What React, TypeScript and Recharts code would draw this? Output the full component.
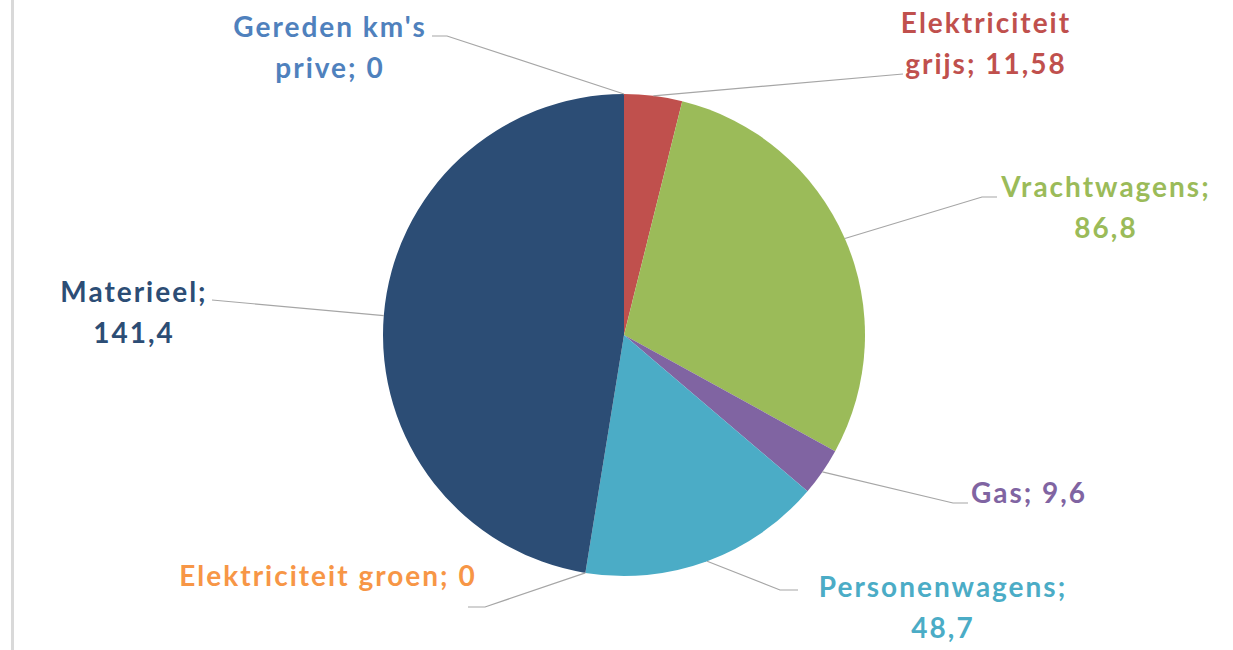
import React from 'react';
import { PieChart, Pie, Cell } from 'recharts';

const categories = [
  'Elektriciteit grijs',
  'Vrachtwagens',
  'Gas',
  'Personenwagens',
  'Elektriciteit groen',
  'Materieel',
  "Gereden km's prive",
];
const values = [11.58, 86.8, 9.6, 48.7, 0, 141.4, 0];
const valueLabels = ['11,58', '86,8', '9,6', '48,7', '0', '141,4', '0'];
const colors = ['#C0504D', '#9BBB59', '#8064A2', '#4BACC6', '#F79646', '#2C4D75', '#4F81BD'];
const textColors = ['#C0504D', '#9BBB59', '#8064A2', '#4BACC6', '#F79646', '#2C4D75', '#4F81BD'];

// label text lines
const labelLines: string[][] = [
  ['Elektriciteit', 'grijs; 11,58'],
  ['Vrachtwagens;', '86,8'],
  ['Gas; 9,6'],
  ['Personenwagens;', '48,7'],
  ['Elektriciteit groen; 0'],
  ['Materieel;', '141,4'],
  ["Gereden km's", 'prive; 0'],
];

// layout of labels, relative to pie centre: text centre x, first baseline y, leader points
type Layout = { tx: number; ty: number; pts: [number, number][] };
const layouts: Layout[] = [
  { tx: 361, ty: -302, pts: [[279, -261]] },
  { tx: 481, ty: -138, pts: [[358, -138], [373, -138]] },
  { tx: 404, ty: 168, pts: [[329, 168], [344, 168]] },
  { tx: 318, ty: 262, pts: [[156, 255], [174, 255]] },
  { tx: -297, ty: 251, pts: [[-139, 272], [-156, 272]] },
  { tx: -491, ty: -33, pts: [[-412, -35]] },
  { tx: -295, ty: -298, pts: [[-177, -299], [-192, -299]] },
];

const data = categories.map((name, i) => ({ name, value: values[i], label: valueLabels[i] }));

const RAD = Math.PI / 180;
const FONT = 'Lato, "Open Sans", sans-serif';

const renderLabel = (props: any) => {
  const { cx, cy, midAngle, outerRadius, index } = props;
  const lay = layouts[index];
  const sx = cx + outerRadius * Math.cos(-midAngle * RAD);
  const sy = cy + outerRadius * Math.sin(-midAngle * RAD);
  const pts = [[sx, sy], ...lay.pts.map(([x, y]) => [cx + x, cy + y])];
  const d = pts.map((p, i) => `${i === 0 ? 'M' : 'L'}${p[0]},${p[1]}`).join(' ');
  const lines = labelLines[index];
  return (
    <g key={`lbl-${index}`}>
      <path d={d} stroke="#A6A6A6" strokeWidth={1.2} fill="none" />
      {lines.map((t, j) => (
        <text
          key={j}
          x={cx + lay.tx + 1}
          y={cy + lay.ty + j * 41}
          textAnchor="middle"
          fill={textColors[index]}
          fontFamily={FONT}
          fontWeight={700}
          fontSize={28}
          letterSpacing={2}
        >
          {t}
        </text>
      ))}
    </g>
  );
};

export default function App() {
  return (
    <div style={{ position: 'absolute', left: 0, top: 0, width: 1233, height: 650, background: '#fff' }}>
      <style>{`.recharts-pie-sectors{filter:drop-shadow(0 0 5px rgba(0,0,0,0.3));}`}</style>
      <div style={{ position: 'absolute', left: 11, top: 0, width: 3, height: 650, background: '#D9D9D9' }} />
      <PieChart width={1233} height={650} style={{ position: 'absolute', left: 0, top: 0 }}>
        <Pie
          data={data}
          dataKey="value"
          nameKey="name"
          cx={619}
          cy={330}
          outerRadius={241}
          startAngle={90}
          endAngle={-270}
          stroke="none"
          label={renderLabel}
          labelLine={false}
          isAnimationActive={false}
        >
          {data.map((d, i) => (
            <Cell key={d.name} fill={colors[i]} />
          ))}
        </Pie>
      </PieChart>
    </div>
  );
}
